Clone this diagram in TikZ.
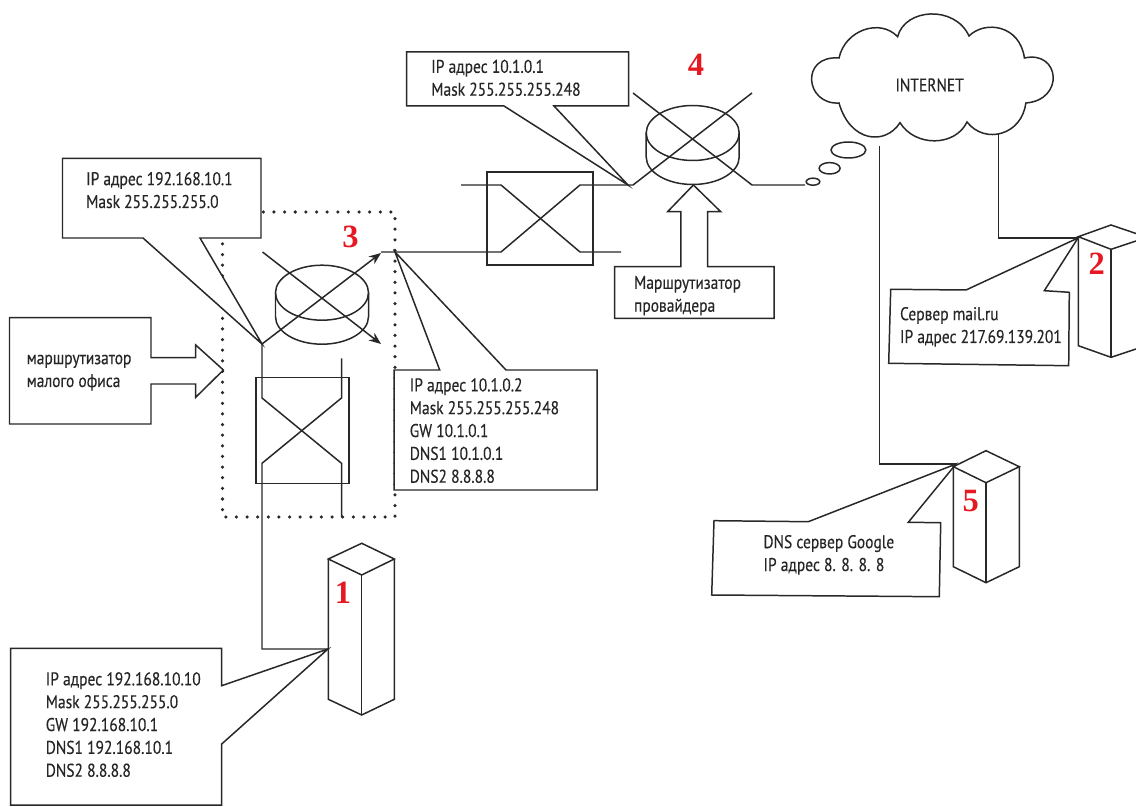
\documentclass[tikz,border=0pt]{standalone}
\usepackage{xcolor}
\usepackage{fontspec}
\setmainfont[FakeStretch=0.84, FakeBold=0.25]{PT Sans}
\newfontfamily\numfont{Liberation Serif}
\usetikzlibrary{arrows.meta, calc}
\definecolor{numred}{RGB}{230,25,35}
\definecolor{linegray}{RGB}{40,40,40}

\begin{document}
\begin{tikzpicture}[x=0.02cm, y=-0.02cm, >={Stealth[length=2.4mm, width=1.9mm]}, line join=miter,
    every path/.style={draw=linegray, line width=0.85pt},
    addr/.style={draw=none, inner sep=0pt, align=left, anchor=base west, text=black!85, font=\fontsize{10.5}{13}\selectfont},
    number/.style={draw=none, inner sep=0pt, text=numred, font=\numfont\bfseries\fontsize{18.5}{19}\selectfont},
    callout/.style={fill=white},
    switchbox/.style={draw, inner sep=0pt, outer sep=0pt}]
  \useasboundingbox[draw=none] (0,0) rectangle (1136,807);

  \coordinate (router3w) at (262,344);
  \coordinate (router3e) at (395,252);
  \coordinate (router4w) at (628,185);
  \coordinate (server1p) at (328,649);
  \coordinate (server2p) at (1078,238);
  \coordinate (server5p) at (956,464);

  \draw[dash pattern=on 0pt off 6.05pt, line cap=round, line width=2pt] (222.5,212) rectangle (395,517);

  \draw[callout] (62.5,158.5) -- (261,158.5) -- (261,238) -- (200,238) -- (router3w) -- (143,238) -- (62.5,238) -- cycle;
  \draw[callout] (394,370) -- (439.7,370) -- (router3e) -- (506,370) -- (597,370) -- (597,490) -- (394,490) -- cycle;
  \draw[callout] (406.5,52) -- (628.6,52) -- (628.6,106) -- (554,106) -- (router4w) -- (504,106) -- (406.5,106) -- cycle;
  \draw[callout] (10.7,648.3) -- (221.7,648.3) -- (221.7,685.7) -- (server1p) -- (221.7,744) -- (221.7,805) -- (10.7,805) -- cycle;
  \draw[callout] (890.7,289.3) -- (966,290) -- (server2p) -- (1044.3,290.7) -- (1069.3,292.3) -- (1068.7,365.7) -- (888.7,363.3) -- cycle;
  \draw[callout] (714,520.7) -- (808.3,521.7) -- (server5p) -- (908.3,522.3) -- (940.7,522.7) -- (939.3,596.7) -- (711.7,595) -- cycle;
  \draw[callout] (9.5,317.7) -- (151,317.7) -- (151,357.7) -- (195.7,357.7) -- (195.7,345) -- (223.4,370) -- (195.7,397.3) -- (195.7,384) -- (151,384) -- (151,424) -- (9.5,424) -- cycle;
  \draw[callout] (614.5,266.7) -- (680.8,266.7) -- (680.8,211.7) -- (667.6,211.7) -- (693.4,185) -- (720.7,211.7) -- (707.5,211.7) -- (707.5,266.7) -- (774,266.7) -- (774,318.3) -- (614.5,318.3) -- cycle;

  \node[addr] (addr3lan) at (85.4,208) {IP адрес 192.168.10.1\\Mask 255.255.255.0};
  \node[addr] (addr3wan) at (409,482.7) {IP адрес 10.1.0.2\\Mask 255.255.255.248\\GW 10.1.0.1\\DNS1 10.1.0.1\\DNS2 8.8.8.8};
  \node[addr] (addr4) at (430.5,95.7) {IP адрес 10.1.0.1\\Mask 255.255.255.248};
  \node[addr] (addr1) at (45,776.7) {IP адрес 192.168.10.10\\Mask 255.255.255.0\\GW 192.168.10.1\\DNS1 192.168.10.1\\DNS2 8.8.8.8};
  \node[addr] (addr2) at (899.3,343) {Сервер mail.ru\\IP адрес 217.69.139.201};
  \node[addr] (addr5) at (762.7,571) {DNS сервер Google\\IP адрес 8. 8. 8. 8};
  \node[addr] (office) at (26,387) {маршрутизатор\\малого офиса};
  \node[addr] (provider) at (633.3,311.7) {Маршрутизатор\\провайдера};
  \node[addr, anchor=center] (internet) at (929.6,85) {INTERNET};

  \node[number] (num1) at (343,593) {1};
  \node[number] (num2) at (1096.7,264) {2};
  \node[number] (num3) at (350.6,237) {3};
  \node[number] (num4) at (696,65) {4};
  \node[number] (num5) at (970.7,500.7) {5};

  % routers
  \foreach \name/\cx/\cy in {router3/322/292.7, router4/692.7/133} {
    \draw (\cx,\cy) ellipse [x radius=46.5, y radius=27.5];
    \draw (\cx-46.5,\cy) -- (\cx-46.5,\cy+24) arc [start angle=180, end angle=0, x radius=46.5, y radius=27.5] -- (\cx+46.5,\cy);
  }
  \draw[->] (router3w) -- (381,253);
  \draw[->] (262.5,252) -- (381,344);
  \draw (router4w) -- (633,185) -- (752,93);
  \draw (633,93) -- (752,185) -- (805,185);

  % switches
  \node[switchbox, minimum width=1.86cm, minimum height=2.12cm] (switch3) at (302.3,430.3) {};
  \node[switchbox, minimum width=2.12cm, minimum height=1.86cm] (switch4) at (540,218.5) {};
  \draw (router3w) -- (262,398) -- (341.5,463.3) -- (341.5,517);
  \draw (341.5,358.3) -- (341.5,398) -- (262,463.3) -- (262,649) -- (server1p);
  \draw (381,252) -- (router3e) -- (501,252) -- (580,185) -- (router4w);
  \draw (461,185) -- (501,185) -- (580,252) -- (621,252);

  % cloud
  \draw (839,58) .. controls (845,30) and (880,18) .. (897.6,36.7)
    .. controls (905,8) and (955,5) .. (969,36)
    .. controls (985,20) and (1020,25) .. (1024.4,58)
    .. controls (1060,50) and (1065,100) .. (1025.8,103)
    .. controls (1022,135) and (985,145) .. (967,122)
    .. controls (955,147) and (915,147) .. (900,122.7)
    .. controls (885,146) and (850,142) .. (839,103)
    .. controls (805,105) and (800,55) .. (839,58) -- cycle;
  \draw (848.4,150) ellipse [x radius=17.4, y radius=8];
  \draw (829.6,168.3) ellipse [x radius=10.5, y radius=5.7];
  \draw (813,181.7) ellipse [x radius=6.8, y radius=3.5];
  \draw (879.5,145.7) -- (879.5,464) -- (server5p);
  \draw (998.5,133) -- (998.5,238) -- (server2p);

  % servers
  \draw (328.3,559) -- (361.7,543.3) -- (394.3,559) -- (361.7,575) -- cycle;
  \draw (328.3,559) -- (328.3,699.3) -- (361.7,715) -- (394.3,699.3) -- (394.3,559);
  \draw (361.7,575) -- (361.7,715);
  \draw (953.3,466.7) -- (986,450.7) -- (1019.3,466.7) -- (986,482.7) -- cycle;
  \draw (953.3,466.7) -- (953.3,566.7) -- (986,582.7) -- (1019.3,566.7) -- (1019.3,466.7);
  \draw (986,482.7) -- (986,582.7);
  \draw (1136,233.5) -- (1111,225) -- (1078.3,236.7) -- (1111,249.3) -- (1136,241);
  \draw (1078.3,236.7) -- (1078.3,345.7) -- (1111,357.3) -- (1136,349);
  \draw (1111,249.3) -- (1111,357.3);
\end{tikzpicture}
\end{document}
